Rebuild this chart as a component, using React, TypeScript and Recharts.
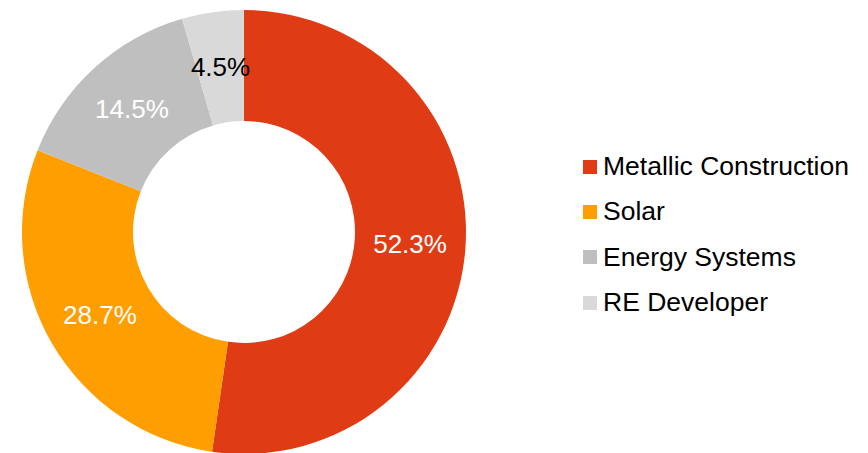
import { PieChart, Pie, Cell, Legend } from 'recharts';

const segments = ['Metallic Construction', 'Solar', 'Energy Systems', 'RE Developer'];
const shares = [52.3, 28.7, 14.5, 4.5];
const colors = ['#DF3C15', '#FF9E00', '#BFBFBF', '#D9D9D9'];
const labelColors = ['#FFFFFF', '#FFFFFF', '#FFFFFF', '#000000'];

const data = segments.map((name, i) => ({ name, value: shares[i] }));

const FONT = '"Liberation Sans", Arial, sans-serif';
const RAD = Math.PI / 180;

const renderLabel = (props: any) => {
  const { cx, cy, midAngle, innerRadius, outerRadius, index, value } = props;
  const r = (innerRadius + outerRadius) / 2;
  const x = cx + r * Math.cos(-midAngle * RAD);
  const y = cy + r * Math.sin(-midAngle * RAD);
  return (
    <text
      x={x}
      y={y}
      fill={labelColors[index]}
      textAnchor="middle"
      dominantBaseline="central"
      fontSize={26}
      fontFamily={FONT}
    >
      {value.toFixed(1)}%
    </text>
  );
};

const LegendList = () => (
  <div style={{ fontFamily: FONT, fontSize: 26.5, color: '#000' }}>
    {segments.map((s, i) => (
      <div key={s} style={{ display: 'flex', alignItems: 'center', height: 45.3 }}>
        <div style={{ width: 14, height: 14, background: colors[i], marginRight: 6 }} />
        <span>{s}</span>
      </div>
    ))}
  </div>
);

export default function App() {
  return (
    <div style={{ position: 'absolute', left: 0, top: 0, width: 868, height: 453, background: '#fff' }}>
      <PieChart width={868} height={453} margin={{ top: 0, right: 0, bottom: 0, left: 0 }}>
        <Pie
          data={data}
          dataKey="value"
          nameKey="name"
          cx={244}
          cy={232}
          innerRadius={111}
          outerRadius={222}
          startAngle={90}
          endAngle={-270}
          stroke="none"
          label={renderLabel}
          labelLine={false}
          isAnimationActive={false}
        >
          {data.map((d, i) => (
            <Cell key={d.name} fill={colors[i]} />
          ))}
        </Pie>
        <Legend
          content={<LegendList />}
          wrapperStyle={{ position: 'absolute', left: 583, top: 144, width: 285 }}
        />
      </PieChart>
    </div>
  );
}
